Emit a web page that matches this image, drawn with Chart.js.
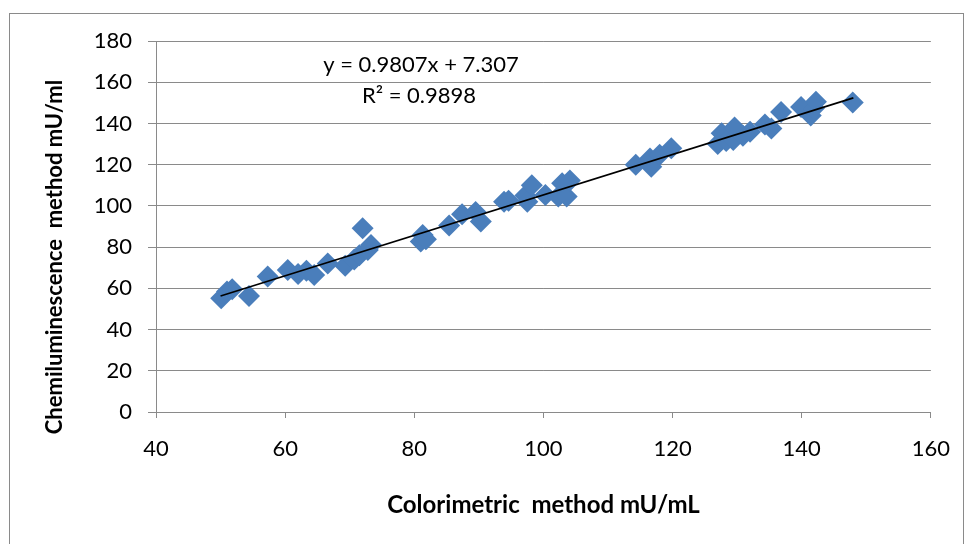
<!DOCTYPE html>
<html>
<head>
<meta charset="utf-8">
<script src="https://cdn.jsdelivr.net/npm/chart.js@4"></script>
<style>
  body { margin: 0; background: #fff; }
  #wrap { position: relative; width: 968px; height: 544px; }
  #frame { position: absolute; left: 9px; top: 13px; width: 953px; height: 540px; border: 1px solid #8a8a8a; }
  canvas { position: absolute; left: 0; top: 0; }
</style>
</head>
<body>
<div id="wrap">
  <div id="frame"></div>
  <canvas id="chart" width="968" height="544"></canvas>
</div>
<script>
// values
const colorimetric = [50.1, 51, 51.8, 54.4, 57.3, 60.4, 62, 63.3, 64.5, 66.6,
  69.3, 70.7, 71.5, 72, 72.8, 73.3, 81, 81.3, 81.8, 85.4,
  87.4, 89.5, 90.3, 93.9, 94.6, 97.2, 97.5, 98.2, 100.3, 102.3,
  102.9, 103.6, 104.1, 114.3, 116.5, 116.7, 118, 119.8, 127, 127.6,
  128.3, 129.4, 129.6, 130.9, 132, 134.3, 135.3, 136.8, 139.9, 141.4,
  141.9, 142.2, 147.9];
const chemi = [55.2, 58.5, 59.5, 56.3, 65.7, 68.9, 67, 68.5, 66.5, 72,
  71, 74, 76, 89.2, 78.6, 81, 82.7, 85.9, 83.8, 90.5,
  96, 97, 92.4, 102, 102.5, 105, 102, 110, 105.3, 104.5,
  111, 104.5, 112.3, 120, 123, 119, 124.8, 128, 130, 135.3,
  131.5, 132, 138, 134, 136, 139.5, 137.5, 145.5, 148, 143.8,
  147.4, 150.5, 150.2];

// trendline end points
const trendX = [50, 148];
const trendY = [56.3, 152.4];

const equationLines = ["y = 0.9807x + 7.307", "R\u00B2 = 0.9898"];
const xTitle = "Colorimetric  method mU/mL";
const yTitle = "Chemiluminescence  method mU/ml";

const FONT = "Lato, 'Open Sans', sans-serif";

// y title and equation text
const extraText = {
  id: "extraText",
  afterDraw(chart) {
    const ctx = chart.ctx;
    ctx.save();
    ctx.fillStyle = "#000";
    ctx.textAlign = "center";
    ctx.textBaseline = "middle";
    ctx.font = "22px " + FONT;
    ctx.fillText(equationLines[0], 421, 65);
    ctx.fillText(equationLines[1], 419, 96);
    ctx.translate(55, 257);
    ctx.rotate(-Math.PI / 2);
    ctx.font = "bold 22px " + FONT;
    ctx.fillText(yTitle, 0, 0);
    ctx.restore();
  }
};

new Chart(document.getElementById("chart"), {
  type: "scatter",
  data: {
    datasets: [
      {
        type: "line",
        data: trendX.map((x, i) => ({ x, y: trendY[i] })),
        borderColor: "#000",
        borderWidth: 1.6,
        pointRadius: 0,
        fill: false,
        order: 0
      },
      {
        data: colorimetric.map((x, i) => ({ x, y: chemi[i] })),
        pointStyle: "rectRot",
        pointRadius: 11,
        pointBackgroundColor: "#4a7ebb",
        pointBorderColor: "#4a7ebb",
        pointBorderWidth: 0,
        order: 1
      }
    ]
  },
  options: {
    responsive: false,
    animation: false,
    layout: { padding: { top: 41, right: 34, left: 0, bottom: 0 } },
    plugins: { legend: { display: false }, tooltip: { enabled: false } },
    scales: {
      x: {
        type: "linear",
        min: 40, max: 160,
        afterFit(scale) { scale.height = 132; },
        ticks: { stepSize: 20, color: "#000", font: { family: FONT, size: 22 }, padding: 18 },
        grid: { drawOnChartArea: false, drawTicks: true, tickLength: 6, color: "#8a8a8a" },
        border: { color: "#8a8a8a", width: 1 },
        title: { display: true, text: xTitle, color: "#000", font: { family: FONT, size: 24, weight: "bold" }, padding: { top: 0, bottom: 24 } }
      },
      y: {
        min: 0, max: 180,
        afterFit(scale) { scale.width = 156; },
        ticks: { stepSize: 20, color: "#000", font: { family: FONT, size: 22 }, padding: 16 },
        grid: { color: "#8a8a8a", lineWidth: 1, tickLength: 8 },
        border: { color: "#8a8a8a", width: 1 }
      }
    }
  },
  plugins: [extraText]
});
</script>
</body>
</html>
